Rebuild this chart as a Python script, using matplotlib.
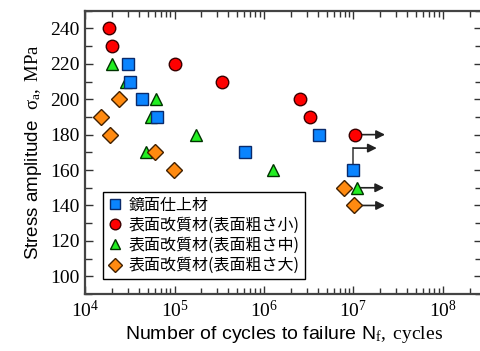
import matplotlib
matplotlib.use("Agg")
import matplotlib.pyplot as plt
from matplotlib.ticker import MultipleLocator, LogLocator, NullFormatter
import numpy as np

plt.rcParams['mathtext.fontset'] = 'custom'
plt.rcParams['mathtext.rm'] = 'Liberation Serif'
plt.rcParams['mathtext.it'] = 'Liberation Serif:italic'

# Data: (cycles, stress)
mirror_N = [3.0e4, 3.2e4, 4.3e4, 6.3e4, 6.2e5, 4.15e6, 1.0e7]
mirror_S = [220, 210, 200, 190, 170, 180, 160]

small_N = [1.85e4, 2.0e4, 1.0e5, 3.4e5, 2.5e6, 3.3e6, 1.05e7]
small_S = [240, 230, 220, 210, 200, 190, 180]

mid_N = [2.0e4, 2.9e4, 6.2e4, 5.4e4, 1.74e5, 4.8e4, 1.27e6, 1.09e7]
mid_S = [220, 210, 200, 190, 180, 170, 160, 150]

large_N = [2.4e4, 1.5e4, 1.89e4, 6.0e4, 9.9e4, 7.8e6, 1.01e7]
large_S = [200, 190, 180, 170, 160, 150, 140]

labels = ["鏡面仕上材", "表面改質材(表面粗さ小)", "表面改質材(表面粗さ中)", "表面改質材(表面粗さ大)"]

# run-out arrows: (start N, stress, end N)
runout_arrows = [(1.05e7, 180, 2.25e7), (1.09e7, 150, 2.2e7), (1.01e7, 140, 2.25e7)]
# bent arrow for mirror run-out
bent_N, bent_S0, bent_S1, bent_end = 1.0e7, 160, 172.4, 1.82e7

fig = plt.figure(figsize=(4.81, 3.51), dpi=100)
ax = fig.add_axes([85/481, 1-294/351, (482.5-85)/481, (294-10.7)/351])
ax.set_xscale('log')
ax.set_xlim(1e4, 10**(4 + (482.5-85)/89.5))
ax.set_ylim(90, 250)

arrow_kw = dict(arrowstyle='-|>', color='#222222', lw=1.2, mutation_scale=13,
                shrinkA=0, shrinkB=0)
for n0, s, n1 in runout_arrows:
    ax.annotate('', xy=(n1, s), xytext=(n0, s), arrowprops=arrow_kw, zorder=2)
ax.plot([bent_N, bent_N], [bent_S0, bent_S1], color='#444444', lw=1.2, zorder=2)
ax.annotate('', xy=(bent_end, bent_S1), xytext=(bent_N, bent_S1), arrowprops=arrow_kw, zorder=2)

ms = 8.5
ax.plot(mirror_N, mirror_S, 's', ms=ms, mfc='#0a84ff', mec='#0a2a6a', mew=1.0, ls='none', zorder=4, label=labels[0])
ax.plot(small_N, small_S, 'o', ms=ms+0.5, mfc='#ff0000', mec='#3a0000', mew=1.0, ls='none', zorder=3, label=labels[1])
ax.plot(mid_N, mid_S, '^', ms=ms+0.5, mfc='#22ee22', mec='#003300', mew=1.0, ls='none', zorder=3, label=labels[2])
ax.plot(large_N, large_S, 'D', ms=ms-0.5, mfc='#ff8a10', mec='#402000', mew=1.0, ls='none', zorder=3, label=labels[3])

# ticks
ax.set_yticks([100, 120, 140, 160, 180, 200, 220, 240])
ax.yaxis.set_minor_locator(MultipleLocator(10))
ax.xaxis.set_major_locator(LogLocator(base=10, numticks=10))
ax.xaxis.set_minor_locator(LogLocator(base=10, subs=np.arange(2, 10), numticks=20))
ax.xaxis.set_minor_formatter(NullFormatter())
ax.tick_params(which='both', direction='in', top=True, right=True, color='#333333')
ax.tick_params(which='major', length=6, width=1.0, labelsize=14, pad=4)
ax.tick_params(which='minor', length=4, width=1.0)
ax.tick_params(axis='y', which='minor', length=5)
for lab in ax.get_xticklabels() + ax.get_yticklabels():
    lab.set_fontfamily('Liberation Serif')

for sp in ax.spines.values():
    sp.set_color('#444444')
    sp.set_linewidth(1.6)

ax.set_xlabel(r"Number of cycles to failure N$_{\rm f}\mathrm{,\ cycles}$",
              fontfamily='Liberation Sans', fontsize=14, labelpad=2)
ax.set_ylabel(r"Stress amplitude  $\mathrm{\sigma_{a},\ MPa}$",
              fontfamily='Liberation Sans', fontsize=13.5, labelpad=4)

leg = ax.legend(loc='lower left', bbox_to_anchor=(0.0445, 0.053), borderaxespad=0,
                prop={'family': ['Noto Sans CJK JP', 'DejaVu Sans'], 'size': 11.5},
                frameon=True, fancybox=False, edgecolor='black', framealpha=1,
                handlelength=0.9, handletextpad=0.45, labelspacing=0.2,
                borderpad=0.3, markerscale=0.85)
leg.get_frame().set_linewidth(1.0)

fig.savefig('out.png', dpi=100)
